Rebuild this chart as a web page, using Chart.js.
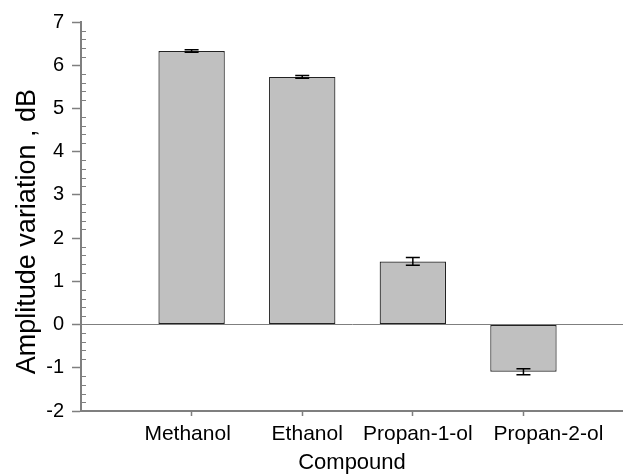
<html>
<head>
  <title>Amplitude variation by compound</title>
  <script src="https://cdn.jsdelivr.net/npm/chart.js"></script>
  <style>
    body { margin: 0; background: #fff; }
  </style>
</head>
<body>
  <canvas id="ampChart" width="623" height="476"></canvas>

  <script>
    // Data
    const categories = ['Methanol', 'Ethanol', 'Propan-1-ol', 'Propan-2-ol'];
    const amplitude = [6.33, 5.73, 1.46, -1.09];
    const errors = [0.03, 0.03, 0.09, 0.07];
    const yTicks = [-2, -1, 0, 1, 2, 3, 4, 5, 6, 7];

    // the original figure's category labels are not exactly centred under their ticks
    const labelNudge = [-4, 5, 5, 25];

    const axisGray = '#7f7f7f';
    const font = 'Arial, "Liberation Sans", sans-serif';

    // Minor ticks on the y axis (4 between majors), pointing inward
    const minorTicks = {
      id: 'minorTicks',
      afterDraw(chart) {
        const y = chart.scales.y;
        const ctx = chart.ctx;
        const left = chart.chartArea.left;
        ctx.save();
        ctx.strokeStyle = axisGray;
        ctx.lineWidth = 1;
        for (let i = 0; i < yTicks.length - 1; i++) {
          for (let k = 1; k < 5; k++) {
            const py = Math.round(y.getPixelForValue(yTicks[i] + k * 0.2)) + 0.5;
            ctx.beginPath();
            ctx.moveTo(left, py);
            ctx.lineTo(left + 5, py);
            ctx.stroke();
          }
        }
        ctx.restore();
      }
    };

    // Category labels and the rotated y title
    const axisText = {
      id: 'axisText',
      afterDraw(chart) {
        const x = chart.scales.x;
        const y = chart.scales.y;
        const ctx = chart.ctx;
        ctx.save();
        ctx.fillStyle = '#000';
        ctx.font = '21px ' + font;
        ctx.textAlign = 'center';
        ctx.textBaseline = 'top';
        categories.forEach((c, i) => {
          ctx.fillText(c, x.getPixelForValue(i + 1) + labelNudge[i], x.top + 13);
        });
        ctx.font = '27px ' + font;
        ctx.textBaseline = 'middle';
        ctx.translate(28, y.getPixelForValue(2.15));
        ctx.rotate(-Math.PI / 2);
        ctx.fillText('Amplitude variation , dB', 0, 0);
        ctx.restore();
      }
    };

    // Error bars with caps
    const errorBars = {
      id: 'errorBars',
      afterDatasetsDraw(chart) {
        const meta = chart.getDatasetMeta(0);
        const y = chart.scales.y;
        const ctx = chart.ctx;
        ctx.save();
        ctx.strokeStyle = '#000';
        ctx.lineWidth = 1.5;
        meta.data.forEach((bar, i) => {
          const px = bar.x;
          const top = y.getPixelForValue(amplitude[i] + errors[i]);
          const bot = y.getPixelForValue(amplitude[i] - errors[i]);
          ctx.beginPath();
          ctx.moveTo(px, top);
          ctx.lineTo(px, bot);
          ctx.moveTo(px - 7, top);
          ctx.lineTo(px + 7, top);
          ctx.moveTo(px - 7, bot);
          ctx.lineTo(px + 7, bot);
          ctx.stroke();
        });
        ctx.restore();
      }
    };

    const ctx = document.getElementById('ampChart').getContext('2d');
    new Chart(ctx, {
      type: 'bar',
      data: {
        datasets: [{
          data: categories.map((c, i) => ({ x: i + 1, y: amplitude[i] })),
          backgroundColor: '#c0c0c0',
          borderColor: '#222',
          borderWidth: 1.2,
          borderSkipped: false,
          categoryPercentage: 1,
          barPercentage: 0.6
        }]
      },
      options: {
        responsive: false,
        animation: false,
        layout: { padding: { left: 0, top: 22, right: 0, bottom: 0 } },
        plugins: { legend: { display: false }, tooltip: { enabled: false } },
        scales: {
          x: {
            type: 'linear',
            min: 0,
            max: 4.9,
            offset: false,
            afterBuildTicks: s => { s.ticks = categories.map((c, i) => ({ value: i + 1 })); },
            afterFit: s => { s.height = 65; },
            ticks: { display: false },
            grid: { drawOnChartArea: false, offset: false, tickLength: 5, tickColor: axisGray, tickWidth: 1.5 },
            border: { color: axisGray, width: 2 },
            title: {
              display: true,
              text: 'Compound',
              color: '#000',
              padding: { top: 0, bottom: 0 },
              font: { family: font, size: 22 }
            }
          },
          y: {
            min: -2,
            max: 7,
            afterBuildTicks: s => { s.ticks = yTicks.map(v => ({ value: v })); },
            afterFit: s => { s.width = 81; },
            ticks: {
              padding: 8,
              color: '#000',
              font: { family: font, size: 20 }
            },
            grid: {
              drawOnChartArea: true,
              tickLength: 9,
              tickColor: axisGray,
              tickWidth: 1.5,
              color: c => (c.tick && c.tick.value === 0) ? axisGray : 'rgba(0,0,0,0)'
            },
            border: { color: axisGray, width: 2 }
          }
        }
      },
      plugins: [minorTicks, axisText, errorBars]
    });
  </script>
</body>
</html>
